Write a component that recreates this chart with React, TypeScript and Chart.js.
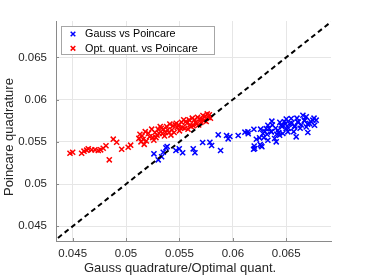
import React, { useEffect, useRef } from "react";
import { Chart, registerables } from "chart.js";

Chart.register(...registerables);

const xTicks = [0.045, 0.05, 0.055, 0.06, 0.065];
const yTicks = [0.045, 0.05, 0.055, 0.06, 0.065];
const xRange = [0.04344, 0.06919];
const yRange = [0.04326, 0.0693];
const diagonal = [0.043, 0.07];
const seriesNames = ["Gauss vs Poincare", "Opt. quant. vs Poincare"];
const xTitle = "Gauss quadrature/Optimal quant.";
const yTitle = "Poincare quadrature";

const gaussX = [
  0.05261, 0.05301, 0.05333, 0.05348, 0.05373, 0.05385, 0.05467, 0.05498, 0.0553, 0.05629,
  0.05645, 0.05717, 0.05785, 0.05801, 0.05885, 0.05863, 0.05941, 0.05956, 0.05972, 0.0605,
  0.06194, 0.06256, 0.06272, 0.06113, 0.06144,
  0.06141, 0.06197, 0.06204, 0.06265, 0.0625, 0.06281, 0.06312, 0.06328, 0.06365, 0.06359,
  0.06391, 0.06406, 0.06422, 0.06453, 0.06484, 0.06499, 0.06531, 0.06546, 0.06578, 0.06593,
  0.06609, 0.06656, 0.06672, 0.06687, 0.06702, 0.06718, 0.06749, 0.0678, 0.06765, 0.06687,
  0.06515, 0.06468, 0.06438, 0.06328,
  0.063, 0.0634, 0.0637, 0.064, 0.0643, 0.0646, 0.0649, 0.0652, 0.0655, 0.0658,
  0.0661, 0.0664, 0.0667, 0.067, 0.0673, 0.0676, 0.0632, 0.0636, 0.0626, 0.0644,
  0.065, 0.066, 0.0663, 0.0657, 0.0641, 0.0629, 0.0622, 0.062,
];
const gaussY = [
  0.05358, 0.05287, 0.05323, 0.05377, 0.05429, 0.05444, 0.05397, 0.05417, 0.0537, 0.05417,
  0.0537, 0.05492, 0.05495, 0.05456, 0.05397, 0.05583, 0.05575, 0.05535, 0.05563, 0.05575,
  0.05412, 0.05468, 0.05441, 0.05614, 0.05595,
  0.05618, 0.05649, 0.05421, 0.05453, 0.05547, 0.05598, 0.05657, 0.05696, 0.05744, 0.05618,
  0.05539, 0.055, 0.05637, 0.05696, 0.05737, 0.05657, 0.05716, 0.05776, 0.05677, 0.05559,
  0.05737, 0.05815, 0.05756, 0.05677, 0.0561, 0.05716, 0.05756, 0.05756, 0.05696, 0.05796,
  0.05618, 0.05598, 0.05578, 0.05519,
  0.0562, 0.0566, 0.057, 0.0566, 0.0561, 0.0568, 0.0571, 0.0566, 0.0572, 0.0569,
  0.0573, 0.057, 0.0575, 0.0571, 0.0574, 0.0578, 0.0559, 0.0562, 0.0565, 0.0573,
  0.0577, 0.0578, 0.0566, 0.0562, 0.0559, 0.0555, 0.0553, 0.0545,
];

const optX = [
  0.04475, 0.045, 0.04584, 0.04606, 0.04631, 0.04646, 0.04678, 0.04709, 0.0474, 0.04762,
  0.04786, 0.04812, 0.04843, 0.0488, 0.04912, 0.04959, 0.0502, 0.05043,
  0.0512, 0.0513, 0.0514, 0.0515, 0.0516, 0.0518, 0.0519, 0.0521, 0.0522, 0.0524,
  0.0525, 0.0527, 0.0528, 0.053, 0.0531, 0.0532, 0.0534, 0.0535, 0.0536, 0.0538,
  0.0539, 0.054, 0.0541, 0.0543, 0.0544, 0.0545, 0.0547, 0.0548, 0.0549, 0.055,
  0.0552, 0.0553, 0.0554, 0.0555, 0.0557, 0.0558, 0.0559, 0.056, 0.0562, 0.0563,
  0.0564, 0.0565, 0.0567, 0.0568, 0.0569, 0.057, 0.0572, 0.0573, 0.0574, 0.0575,
  0.0576, 0.0577, 0.0578, 0.0579,
  0.0517, 0.0526, 0.0533, 0.0542, 0.0551, 0.0561, 0.0566, 0.0571, 0.0546, 0.0556,
  0.0529, 0.0537,
];
const optY = [
  0.05365, 0.05377, 0.05365, 0.05389, 0.05401, 0.05417, 0.05405, 0.05405, 0.05397, 0.05405,
  0.05424, 0.05453, 0.05287, 0.05531, 0.05495, 0.05412, 0.05436, 0.0546,
  0.0554, 0.0559, 0.055, 0.0557, 0.0553, 0.0562, 0.0551, 0.056, 0.0556, 0.0565,
  0.0555, 0.0561, 0.0555, 0.0565, 0.056, 0.0568, 0.056, 0.0565, 0.0557, 0.0568,
  0.0564, 0.0561, 0.0571, 0.0564, 0.0569, 0.0561, 0.0572, 0.0567, 0.057, 0.0563,
  0.0573, 0.0567, 0.0576, 0.0566, 0.0572, 0.0565, 0.0576, 0.057, 0.0578, 0.0569,
  0.0576, 0.0573, 0.0579, 0.057, 0.0577, 0.0573, 0.0581, 0.0575, 0.058, 0.0574,
  0.0583, 0.0579, 0.0582, 0.0578,
  0.0547, 0.0552, 0.0566, 0.0558, 0.0566, 0.0568, 0.0571, 0.0577, 0.057, 0.0574,
  0.0558, 0.0561,
];

const BLUE = "#0000ff";
const RED = "#ff0000";
const AXIS = "#8a8a8a";
const TEXT = "#262626";
const FONT = "'Liberation Sans', Arial, Helvetica, sans-serif";

const fmt = (v: number) => String(+Number(v).toFixed(4));

function crossAt(ctx: CanvasRenderingContext2D, x: number, y: number, h: number) {
  ctx.beginPath();
  ctx.moveTo(x - h, y - h);
  ctx.lineTo(x + h, y + h);
  ctx.moveTo(x - h, y + h);
  ctx.lineTo(x + h, y - h);
  ctx.stroke();
}

const decorPlugin = {
  id: "decor",
  afterDraw(chart: any) {
    const { ctx, chartArea: a, scales } = chart;
    ctx.save();
    // inward tick marks
    ctx.strokeStyle = AXIS;
    ctx.lineWidth = 1;
    xTicks.forEach((v) => {
      const px = Math.round(scales.x.getPixelForValue(v)) + 0.5;
      ctx.beginPath();
      ctx.moveTo(px, a.bottom);
      ctx.lineTo(px, a.bottom - 3);
      ctx.stroke();
    });
    yTicks.forEach((v) => {
      const py = Math.round(scales.y.getPixelForValue(v)) + 0.5;
      ctx.beginPath();
      ctx.moveTo(a.left, py);
      ctx.lineTo(a.left + 3, py);
      ctx.stroke();
    });

    // legend
    const lx = a.left + 5.5;
    const ly = a.top + 5.5;
    const lw = 153;
    const lh = 28;
    ctx.fillStyle = "#ffffff";
    ctx.fillRect(lx, ly, lw, lh);
    ctx.strokeStyle = "#a6a6a6";
    ctx.lineWidth = 1;
    ctx.strokeRect(lx, ly, lw, lh);
    const colors = [BLUE, RED];
    ctx.font = `10.8px ${FONT}`;
    ctx.textBaseline = "middle";
    ctx.textAlign = "left";
    seriesNames.forEach((name, i) => {
      const cy = a.top + 13 + i * 14.3;
      ctx.strokeStyle = colors[i];
      ctx.lineWidth = 1.5;
      crossAt(ctx, a.left + 17, cy, 2.3);
      ctx.fillStyle = "#000000";
      ctx.fillText(name, a.left + 29, cy + 0.5);
    });

    // axis titles
    ctx.fillStyle = TEXT;
    ctx.font = `13px ${FONT}`;
    ctx.textAlign = "center";
    ctx.textBaseline = "alphabetic";
    ctx.fillText(xTitle, a.left + 124, 272);
    ctx.translate(13, a.top + 116);
    ctx.rotate(-Math.PI / 2);
    ctx.fillText(yTitle, 0, 0);
    ctx.restore();
  },
};

export default function App() {
  const ref = useRef<HTMLCanvasElement | null>(null);
  useEffect(() => {
    if (!ref.current) return;
    const chart = new Chart(ref.current, {
      type: "scatter",
      data: {
        datasets: [
          {
            type: "line",
            label: "diag",
            data: diagonal.map((v) => ({ x: v, y: v })),
            borderColor: "#000000",
            borderWidth: 2,
            borderDash: [5, 3.5],
            pointRadius: 0,
            fill: false,
            order: 0,
          } as any,
          {
            label: seriesNames[1],
            data: optX.map((x, i) => ({ x, y: optY[i] })),
            pointStyle: "crossRot",
            pointRadius: 3.6,
            borderColor: RED,
            backgroundColor: RED,
            pointBorderWidth: 1.5,
            order: 1,
          },
          {
            label: seriesNames[0],
            data: gaussX.map((x, i) => ({ x, y: gaussY[i] })),
            pointStyle: "crossRot",
            pointRadius: 3.6,
            borderColor: BLUE,
            backgroundColor: BLUE,
            pointBorderWidth: 1.5,
            order: 2,
          },
        ],
      },
      options: {
        animation: false,
        responsive: false,
        devicePixelRatio: 1,
        layout: { padding: { left: 0, top: 21, right: 35, bottom: 0 } },
        plugins: { legend: { display: false }, tooltip: { enabled: false } },
        scales: {
          x: {
            type: "linear",
            min: xRange[0],
            max: xRange[1],
            afterBuildTicks: (s: any) => {
              s.ticks = xTicks.map((v) => ({ value: v }));
            },
            afterFit: (s: any) => {
              s.height = 35;
            },
            grid: { color: "#e6e6e6", drawTicks: false, lineWidth: 1 },
            border: { color: AXIS, width: 1 },
            ticks: {
              autoSkip: false,
              maxRotation: 0,
              padding: 6,
              color: TEXT,
              font: { family: FONT, size: 11.5 },
              callback: (v: any) => fmt(v),
            },
          },
          y: {
            type: "linear",
            min: yRange[0],
            max: yRange[1],
            afterBuildTicks: (s: any) => {
              s.ticks = yTicks.map((v) => ({ value: v }));
            },
            afterFit: (s: any) => {
              s.width = 56;
            },
            grid: { color: "#e6e6e6", drawTicks: false, lineWidth: 1 },
            border: { color: AXIS, width: 1 },
            ticks: {
              autoSkip: false,
              padding: 9,
              color: TEXT,
              font: { family: FONT, size: 11.5 },
              callback: (v: any) => fmt(v),
            },
          },
        },
      } as any,
      plugins: [decorPlugin],
    });
    return () => chart.destroy();
  }, []);
  return (
    <div style={{ position: "fixed", left: 0, top: 0, width: 366, height: 276, background: "#fff" }}>
      <canvas ref={ref} width={366} height={276} style={{ width: 366, height: 276, display: "block" }} />
    </div>
  );
}
